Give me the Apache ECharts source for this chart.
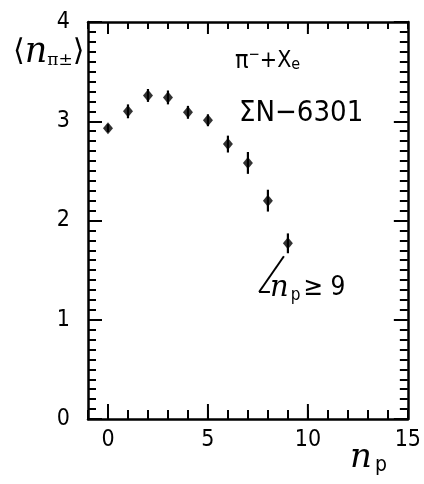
<!DOCTYPE html>
<html>
<head>
<meta charset="utf-8">
<script src="https://cdn.jsdelivr.net/npm/echarts@6/dist/echarts.min.js"></script>
<style>html,body{margin:0;padding:0;background:#fff;}#c{width:424px;height:484px;}</style>
</head>
<body>
<div id="c"></div>
<script>
// Data
var np = [0, 1, 2, 3, 4, 5, 6, 7, 8, 9];
var meanPi = [2.93, 3.10, 3.26, 3.24, 3.09, 3.01, 2.77, 2.58, 2.20, 1.77];
var errPi = [0.04, 0.07, 0.065, 0.07, 0.065, 0.06, 0.085, 0.11, 0.11, 0.10];
var xTickLabels = [0, 5, 10, 15];
var yTickLabels = [0, 1, 2, 3, 4];
var xMajor = [0, 5, 10];
var arrowPath = [[8.8, 1.64], [7.56, 1.28], [8.1, 1.28]];

var FONT = "'Liberation Sans Narrow', 'DejaVu Sans Condensed', 'DejaVu Sans', sans-serif";
var pts = np.map(function (x, i) { return [x, meanPi[i]]; });
var errs = np.map(function (x, i) { return [x, meanPi[i] - errPi[i], meanPi[i] + errPi[i]]; });

var chart = echarts.init(document.getElementById('c'), null, { renderer: 'canvas' });
var lineStyle = { color: '#000', width: 2.5 };
var tickStyle = { color: '#000', width: 2 };

function xAx(pos, len, labels) {
  var a = {
    type: 'value', position: pos, min: -1, max: 15, interval: 1,
    axisLine: { show: true, onZero: false, lineStyle: lineStyle },
    axisTick: { show: true, inside: true, length: len, lineStyle: tickStyle },
    splitLine: { show: false },
    axisLabel: { show: false }
  };
  if (labels) {
    a.axisLabel = { show: true, customValues: labels, color: '#000', fontSize: 23, fontFamily: FONT, margin: 10 };
  }
  return a;
}
function yAx(pos, showLabels) {
  return {
    type: 'value', position: pos, min: 0, max: 4, interval: 1,
    axisLine: { show: true, onZero: false, lineStyle: lineStyle },
    axisTick: { show: true, inside: true, length: 14, lineStyle: tickStyle },
    minorTick: { show: true, splitNumber: 10, length: 8, lineStyle: tickStyle },
    splitLine: { show: false }, minorSplitLine: { show: false },
    axisLabel: showLabels ? { show: true, customValues: yTickLabels, color: '#000', fontSize: 23, fontFamily: FONT, margin: 18 } : { show: false }
  };
}

chart.setOption({
  animation: false,
  backgroundColor: '#fff',
  grid: { left: 88, right: 16, top: 22, bottom: 65 },
  xAxis: [
    xAx('bottom', 9, xTickLabels),
    xAx('top', 7, null)
  ],
  yAxis: [yAx('left', true), yAx('right', false)],
  graphic: [
    { type: 'text', left: 13, top: 35, style: {
      text: '⟨{n|n}{s|π±}⟩', fill: '#000', font: "30px 'DejaVu Sans'",
      rich: { n: { fontSize: 35, fontFamily: "'DejaVu Serif'", fontStyle: 'italic', fill: '#000' },
              s: { fontSize: 17, fontFamily: "'DejaVu Serif'", fill: '#000', padding: [16, 0, 0, 0] } } } },
    { type: 'text', left: 235, top: 48, style: {
      text: '{p|π}{m|−}{t|+X}{e|e}', fill: '#000',
      rich: { p: { fontSize: 25, fontFamily: FONT, fill: '#000' },
              m: { fontSize: 15, fontFamily: FONT, fill: '#000', padding: [0, 0, 12, 0] },
              t: { fontSize: 23, fontFamily: FONT, fill: '#000' },
              e: { fontSize: 16, fontFamily: FONT, fill: '#000', padding: [6, 0, 0, 0] } } } },
    { type: 'text', left: 239, top: 99, style: { text: 'ΣN−6301', fill: '#000', font: "29px " + FONT } },
    { type: 'text', left: 270, top: 274, style: {
      text: '{n|n}{s|p}{g|≥ 9}', fill: '#000',
      rich: { n: { fontSize: 29, fontFamily: "'DejaVu Serif'", fontStyle: 'italic', fill: '#000' },
              s: { fontSize: 17, fontFamily: FONT, fill: '#000', padding: [14, 3, 0, 2] } ,
              g: { fontSize: 26, fontFamily: FONT, fill: '#000' } } } },
    { type: 'text', left: 350, top: 441, style: {
      text: '{n|n}{s|p}', fill: '#000',
      rich: { n: { fontSize: 34, fontFamily: "'DejaVu Serif'", fontStyle: 'italic', fill: '#000' },
              s: { fontSize: 21, fontFamily: FONT, fill: '#000', padding: [16, 0, 0, 3] } } } }
  ],
  series: [
    {
      // longer major ticks at x = 0, 5, 10 on bottom and top frame
      type: 'custom', xAxisIndex: 0, yAxisIndex: 0, data: xMajor, z: 5, silent: true,
      renderItem: function (params, api) {
        var b = api.coord([api.value(0), 0]);
        var t = api.coord([api.value(0), 4]);
        return { type: 'group', children: [
          { type: 'line', shape: { x1: b[0], y1: b[1], x2: b[0], y2: b[1] - 15 }, style: { stroke: '#000', lineWidth: 2 } },
          { type: 'line', shape: { x1: t[0], y1: t[1], x2: t[0], y2: t[1] + 12 }, style: { stroke: '#000', lineWidth: 2 } }
        ] };
      }
    },
    {
      type: 'custom', xAxisIndex: 0, yAxisIndex: 0, data: errs, z: 3,
      renderItem: function (params, api) {
        var lo = api.coord([api.value(0), api.value(1)]);
        var hi = api.coord([api.value(0), api.value(2)]);
        return { type: 'line', shape: { x1: lo[0], y1: lo[1], x2: hi[0], y2: hi[1] },
                 style: { stroke: '#000', lineWidth: 2.2 } };
      }
    },
    {
      type: 'scatter', xAxisIndex: 0, yAxisIndex: 0, data: pts, z: 4,
      symbol: 'diamond', symbolSize: [10, 12],
      itemStyle: { color: '#000' },
      markLine: {
        silent: true, symbol: 'none', label: { show: false },
        lineStyle: { color: '#000', width: 2, type: 'solid' },
        data: [
          [{ coord: arrowPath[0] }, { coord: arrowPath[1] }],
          [{ coord: arrowPath[1] }, { coord: arrowPath[2] }]
        ]
      }
    }
  ]
});
</script>
</body>
</html>
